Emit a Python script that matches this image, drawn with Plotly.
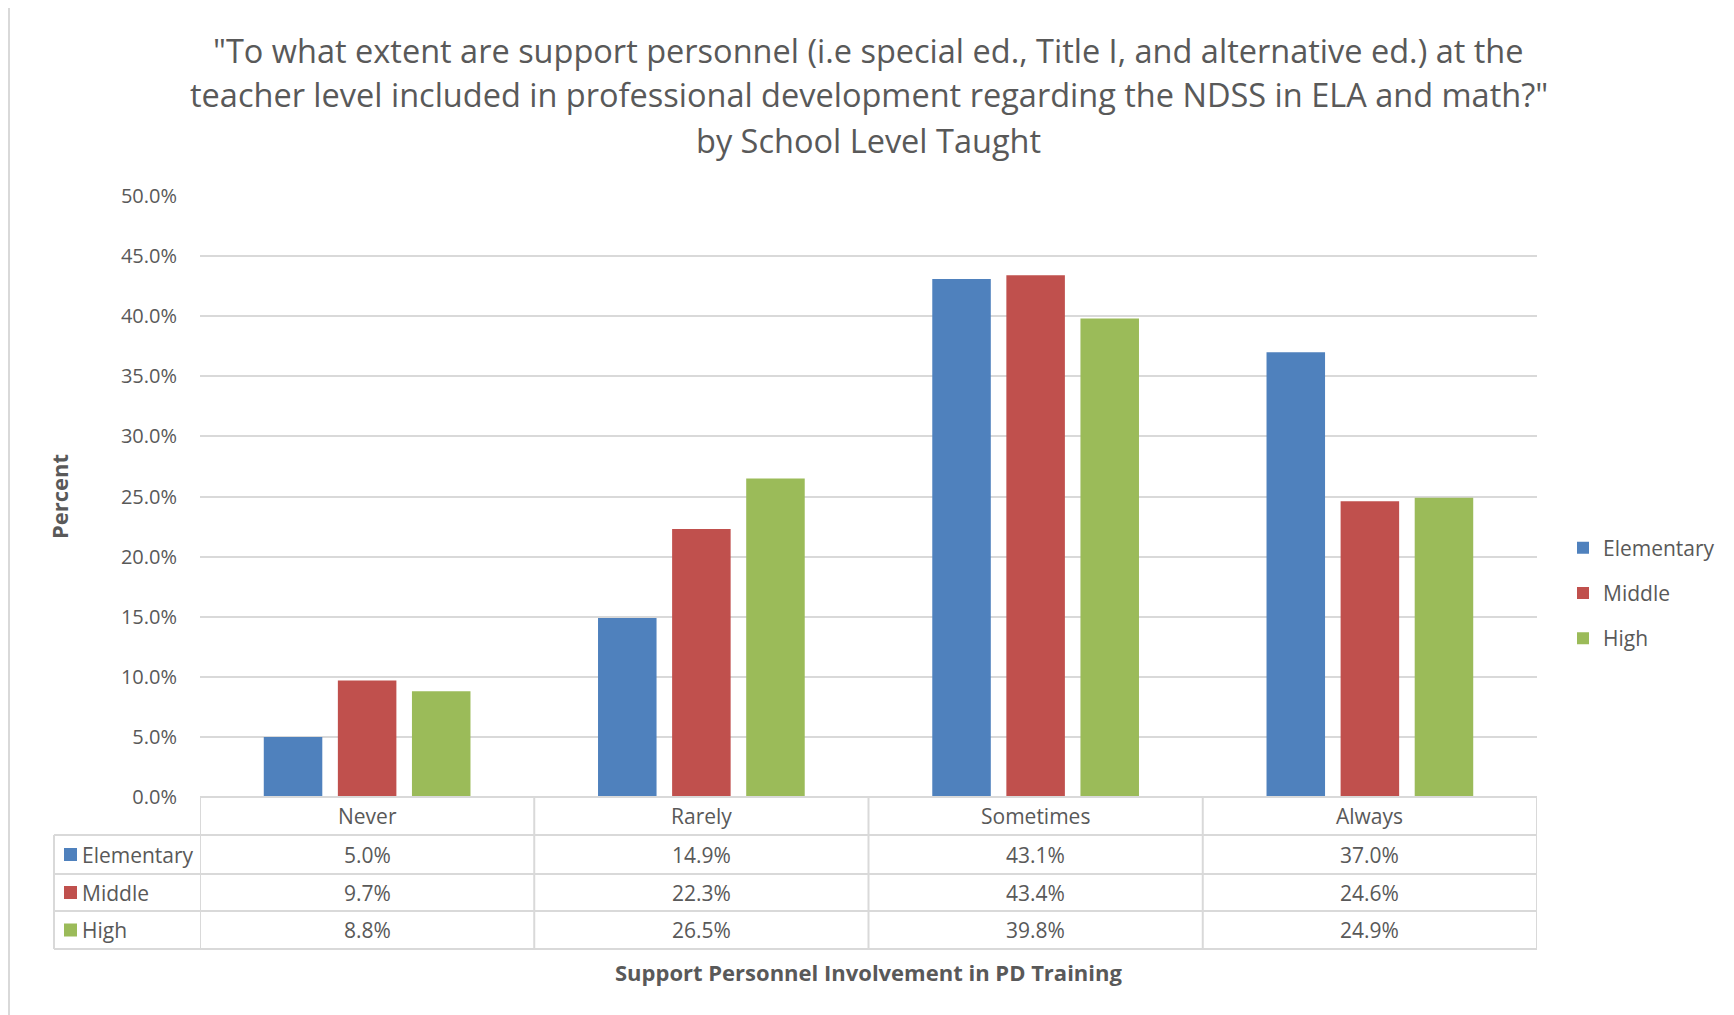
import plotly.graph_objects as go

categories = ["Never", "Rarely", "Sometimes", "Always"]
series_names = ["Elementary", "Middle", "High"]
elementary = [5.0, 14.9, 43.1, 37.0]
middle = [9.7, 22.3, 43.4, 24.6]
high = [8.8, 26.5, 39.8, 24.9]
colors = ["#4F81BD", "#C0504D", "#9BBB59"]
y_ticks = [0, 5, 10, 15, 20, 25, 30, 35, 40, 45, 50]
title_lines = [
    '"To what extent are support personnel (i.e special ed., Title I, and alternative ed.) at the',
    'teacher level included in professional development regarding the NDSS in ELA and math?"',
    'by School Level Taught',
]
x_title = "Support Personnel Involvement in PD Training"
y_title = "Percent"

# page has an 8px body margin; the figure is sized to fit inside the window
W, H = 1726, 1007
L, R, T, B = 192, 197, 188, 218
PH = H - T - B
PW = W - L - R
FONT = "Open Sans"
TXT = "#595959"
GRID = "#D9D9D9"
OFF = 8


def py(ypix):
    return (H - B - (ypix - OFF)) / PH


def px(xpix):
    return ((xpix - OFF) - L) / PW


series = [elementary, middle, high]
fig = go.Figure()
for name, vals, col in zip(series_names, series, colors):
    fig.add_trace(go.Bar(name=name, x=categories, y=vals, marker_color=col,
                         marker_line_width=0, legendgroup=name))

shapes = []
annotations = []

row_edges = [797, 835, 874, 911, 949]
row_centers = [(row_edges[i] + row_edges[i + 1]) / 2 for i in range(4)]
legend_col_left = 54
line_style = dict(color=GRID, width=2)

shapes.append(dict(type="line", xref="paper", yref="paper", x0=0, x1=1,
                   y0=py(row_edges[0]), y1=py(row_edges[0]), line=line_style))
for ye in row_edges[1:]:
    shapes.append(dict(type="line", xref="paper", yref="paper", x0=px(legend_col_left), x1=1,
                       y0=py(ye), y1=py(ye), line=line_style))
shapes.append(dict(type="line", xref="paper", yref="paper", x0=px(legend_col_left), x1=px(legend_col_left),
                   y0=py(row_edges[1]), y1=py(row_edges[-1]), line=line_style))
for i in range(len(categories) + 1):
    xb = i - 0.5
    shapes.append(dict(type="line", xref="x", yref="paper", x0=xb, x1=xb,
                       y0=py(row_edges[0]), y1=py(row_edges[-1]), line=line_style))

TS = 21
for c in categories:
    annotations.append(dict(x=c, y=py(row_centers[0]), xref="x", yref="paper", text=c,
                            showarrow=False, font=dict(family=FONT, size=TS, color=TXT),
                            xanchor="center", yanchor="middle"))
for r, (name, vals, col) in enumerate(zip(series_names, series, colors)):
    yc = py(row_centers[r + 1])
    half = 6.5 / PH
    shapes.append(dict(type="rect", xref="paper", yref="paper", x0=px(64), x1=px(77),
                       y0=yc - half, y1=yc + half, fillcolor=col, line_width=0))
    annotations.append(dict(x=px(80), y=yc, xref="paper", yref="paper", text=name,
                            showarrow=False, font=dict(family=FONT, size=TS, color=TXT),
                            xanchor="left", yanchor="middle"))
    for c, v in zip(categories, vals):
        annotations.append(dict(x=c, y=yc, xref="x", yref="paper", text=f"{v:.1f}%",
                                showarrow=False, font=dict(family=FONT, size=TS, color=TXT),
                                xanchor="center", yanchor="middle"))

annotations.append(dict(x=0.5, y=py(972), xref="paper", yref="paper", text=f"<b>{x_title}</b>",
                        showarrow=False, font=dict(family=FONT, size=22, color=TXT),
                        xanchor="center", yanchor="middle"))
annotations.append(dict(x=px(59), y=py(497), xref="paper", yref="paper", text=f"<b>{y_title}</b>",
                        showarrow=False, textangle=-90, font=dict(family=FONT, size=22, color=TXT),
                        xanchor="center", yanchor="middle"))
for yp, line in zip([50, 95, 140], title_lines):
    annotations.append(dict(x=0.5, y=py(yp), xref="paper", yref="paper", text=line,
                            showarrow=False, font=dict(family=FONT, size=32.5, color=TXT),
                            xanchor="center", yanchor="middle"))

shapes.append(dict(type="line", xref="paper", yref="paper", x0=px(9), x1=px(9),
                   y0=py(5), y1=py(1100), line=dict(color=GRID, width=2)))
shapes.append(dict(type="line", xref="paper", yref="paper", x0=px(9), x1=px(1800),
                   y0=py(5), y1=py(5), line=dict(color=GRID, width=2)))

fig.update_layout(
    width=W, height=H,
    margin=dict(l=L, r=R, t=T, b=B, autoexpand=False),
    paper_bgcolor="white", plot_bgcolor="white",
    barmode="group", bargap=0.335, bargroupgap=0.21,
    font=dict(family=FONT, color=TXT),
    showlegend=True,
    legend=dict(x=px(1563), y=py(593), xanchor="left", yanchor="middle",
                font=dict(family=FONT, size=TS, color=TXT), tracegroupgap=15,
                bgcolor="rgba(0,0,0,0)"),
    shapes=shapes,
    annotations=annotations,
)
fig.update_xaxes(range=[-0.5, 3.5], showticklabels=False, showgrid=False, zeroline=False,
                 showline=False, ticks="")
fig.update_yaxes(range=[0, 50], tickvals=y_ticks, ticktext=[f"{v:.1f}%" for v in y_ticks],
                 showgrid=True, gridcolor=GRID, gridwidth=1.5, zeroline=False, showline=False,
                 ticks="", ticklabelstandoff=22,
                 tickfont=dict(family=FONT, size=20, color=TXT))

fig.write_html("out.html")
